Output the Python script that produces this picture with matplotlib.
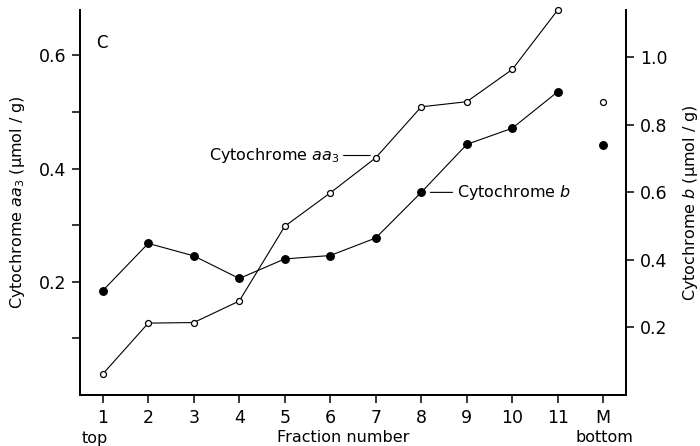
import matplotlib.pyplot as plt

plt.rcParams['font.family'] = ['DejaVu Sans']
plt.rcParams['mathtext.fontset'] = 'dejavusans'

# fraction labels along the gradient, M is the pellet
fractions = ['1', '2', '3', '4', '5', '6', '7', '8', '9', '10', '11', 'M']
aa3 = [0.037, 0.127, 0.128, 0.166, 0.298, 0.357, 0.419, 0.509, 0.518, 0.575, 0.680, 0.517]
cyt_b = [0.309, 0.449, 0.412, 0.345, 0.403, 0.413, 0.465, 0.600, 0.742, 0.790, 0.898, 0.740]

x = list(range(1, len(fractions) + 1))
n_line = 11  # points 1-11 joined, M drawn on its own

fig = plt.figure(figsize=(7, 4.46), dpi=100)
ax = fig.add_axes([0.1143, 0.1143, 0.78, 0.8633])
ax2 = ax.twinx()

ax.plot(x[:n_line], aa3[:n_line], color='black', lw=0.8, marker='o', ms=4.3,
        mfc='white', mec='black', mew=0.9, clip_on=False, zorder=3)
ax.plot(x[n_line:], aa3[n_line:], ls='none', marker='o', ms=4.3,
        mfc='white', mec='black', mew=0.9, clip_on=False, zorder=3)
ax2.plot(x[:n_line], cyt_b[:n_line], color='black', lw=0.8, marker='o', ms=5.4,
         mfc='black', mec='black', clip_on=False, zorder=3)
ax2.plot(x[n_line:], cyt_b[n_line:], ls='none', marker='o', ms=5.4,
         mfc='black', mec='black', clip_on=False, zorder=3)

ax.set_xlim(0.5, 12.5)
ax.set_ylim(0, 0.68)
ax2.set_ylim(0, 1.14)

ax.set_xticks(x)
ax.set_xticklabels(fractions)
ax.set_yticks([0.2, 0.4, 0.6])
ax.set_yticklabels(['0.2', '0.4', '0.6'])
ax.set_yticks([0.1, 0.3, 0.5], minor=True)
ax2.set_yticks([0.2, 0.4, 0.6, 0.8, 1.0])
ax2.set_yticklabels(['0.2', '0.4', '0.6', '0.8', '1.0'])

for a in (ax, ax2):
    a.spines['top'].set_visible(False)
    for s in ('left', 'right', 'bottom'):
        a.spines[s].set_linewidth(1.3)
ax.tick_params(axis='both', which='major', direction='out', length=6, width=1.1,
               labelsize=12.5, pad=4)
ax.tick_params(axis='y', which='minor', direction='out', length=6, width=1.1)
ax2.tick_params(axis='y', direction='out', length=6, width=1.1, labelsize=12.5, pad=4)

ax.set_ylabel('Cytochrome $aa_3$ (\u00b5mol / g)', fontsize=11.5, labelpad=8)
ax2.set_ylabel('Cytochrome $b$ (\u00b5mol / g)', fontsize=11.5, labelpad=10)

# annotations
ax.annotate('Cytochrome $aa_3$', xy=(x[6] - 0.12, aa3[6] + 0.004),
            xytext=(x[6] - 0.8, aa3[6] + 0.004), ha='right', va='center', fontsize=11.5,
            arrowprops=dict(arrowstyle='-', color='black', lw=0.8, shrinkA=1, shrinkB=0))
ax2.annotate('Cytochrome $b$', xy=(x[7] + 0.2, cyt_b[7]),
             xytext=(x[7] + 0.78, cyt_b[7]), ha='left', va='center', fontsize=11.5,
             arrowprops=dict(arrowstyle='-', color='black', lw=0.8, shrinkA=1, shrinkB=0))
ax.text(0.04, 0.914, 'C', transform=ax.transAxes, fontsize=12, ha='center', va='center')

fig.text(95 / 700, 1 - 438 / 446, 'top', fontsize=11.5, ha='center', va='center')
fig.text(343 / 700, 1 - 438 / 446, 'Fraction number', fontsize=11.5, ha='center', va='center')
fig.text(604 / 700, 1 - 438 / 446, 'bottom', fontsize=11.5, ha='center', va='center')

fig.savefig('out.png', dpi=100)
